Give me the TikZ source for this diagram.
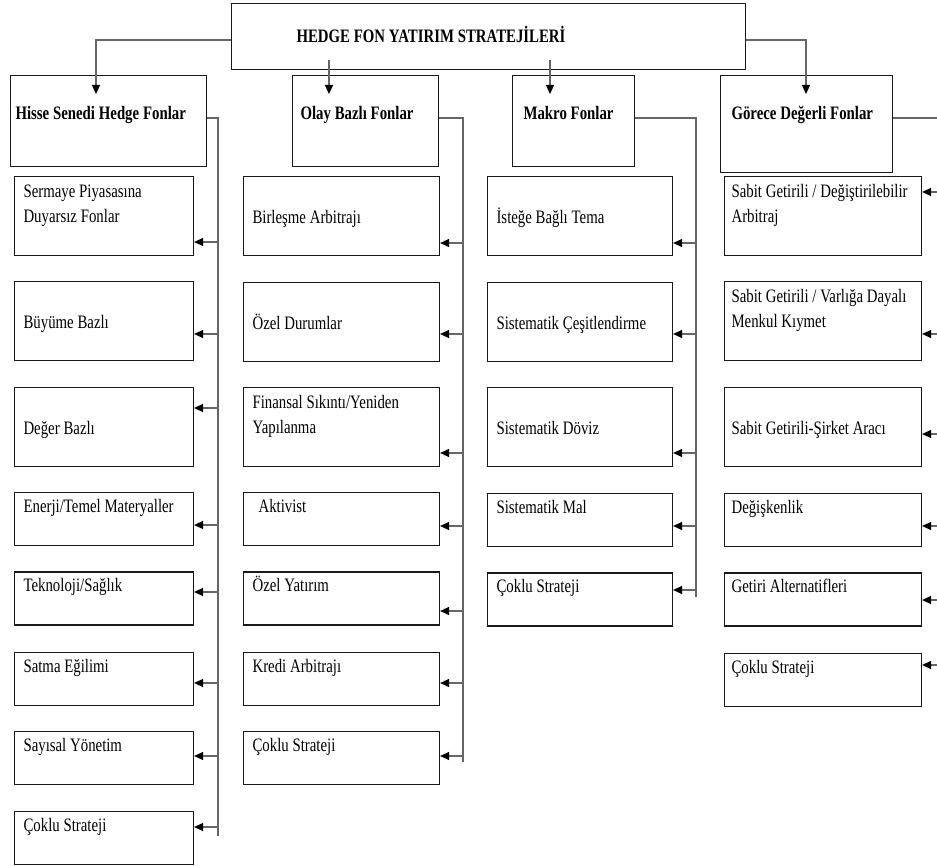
\documentclass[tikz,border=0pt]{standalone}
\usepackage{fontspec}
\setmainfont{Liberation Serif}[FakeStretch=0.78]
\usetikzlibrary{arrows.meta,positioning}
\newcommand{\boxfont}{\fontsize{19}{25}\selectfont}

\begin{document}
\begin{tikzpicture}[
x=1pt, y=-1pt,
every node/.style={font=\boxfont, execute at begin node={\spaceskip=3.8pt plus 2pt minus 1pt\relax}},
box/.style={draw=black!90, line width=1.1pt, align=left, inner ysep=0pt, anchor=north west},
headbox/.style={box, font=\boxfont\bfseries},
tallmid/.style={text height=47pt, text depth=32pt},
talltop/.style={text height=21pt, text depth=58pt},
short/.style={text height=20pt, text depth=33pt},
hcol/.style={box, inner xsep=9pt, text width=161pt},
ocol/.style={box, inner xsep=9pt, text width=178pt},
mcol/.style={box, inner xsep=9pt, text width=167pt},
gcol/.style={box, inner xsep=7pt, text width=183pt},
line/.style={draw=black!60, line width=1.3pt},
arr/.style={line, -{Triangle[length=9pt,width=8pt,color=black]}},
]
\useasboundingbox (0,0) rectangle (937,866);
%Nodes
\node[headbox, inner xsep=65pt, text width=384pt, text height=39pt, text depth=27pt] (top) at (231,3) {HEDGE FON YATIRIM STRATEJİLERİ};

\node[headbox, inner xsep=5pt, text width=186pt, text height=44pt, text depth=47pt] (hisse) at (10,75) {Hisse Senedi Hedge Fonlar};
\node[headbox, inner xsep=8pt, text width=130pt, text height=44pt, text depth=47pt] (olay) at (292,75) {Olay Bazlı Fonlar};
\node[headbox, inner xsep=11pt, text width=100pt, text height=44pt, text depth=47pt] (makro) at (512,75) {Makro Fonlar};
\node[headbox, inner xsep=11pt, text width=150pt, text height=44pt, text depth=53pt] (gorece) at (720,75) {Görece Değerli Fonlar};

\node[hcol, talltop] (h1) at (14,176) {Sermaye Piyasasına\\Duyarsız Fonlar};
\node[hcol, tallmid] (h2) [below=25pt of h1] {Büyüme Bazlı};
\node[hcol, tallmid] (h3) [below=26pt of h2] {Değer Bazlı};
\node[hcol, short]   (h4) [below=25pt of h3] {Enerji/Temel Materyaller};
\node[hcol, short]   (h5) [below=25pt of h4] {Teknoloji/Sağlık};
\node[hcol, short]   (h6) [below=26pt of h5] {Satma Eğilimi};
\node[hcol, short]   (h7) [below=25pt of h6] {Sayısal Yönetim};
\node[hcol, short]   (h8) [below=26pt of h7] {Çoklu Strateji};

\node[ocol, tallmid] (o1) at (243,176) {Birleşme Arbitrajı};
\node[ocol, tallmid] (o2) [below=26pt of o1] {Özel Durumlar};
\node[ocol, talltop] (o3) [below=25pt of o2] {Finansal Sıkıntı/Yeniden\\Yapılanma};
\node[ocol, short]   (o4) [below=25pt of o3] {\hspace{6pt}Aktivist};
\node[ocol, short]   (o5) [below=25pt of o4] {Özel Yatırım};
\node[ocol, short]   (o6) [below=26pt of o5] {Kredi Arbitrajı};
\node[ocol, short]   (o7) [below=25pt of o6] {Çoklu Strateji};

\node[mcol, tallmid] (m1) at (487,176) {İsteğe Bağlı Tema};
\node[mcol, tallmid] (m2) [below=26pt of m1] {Sistematik Çeşitlendirme};
\node[mcol, tallmid] (m3) [below=25pt of m2] {Sistematik Döviz};
\node[mcol, short]   (m4) [below=26pt of m3] {Sistematik Mal};
\node[mcol, short]   (m5) [below=25pt of m4] {Çoklu Strateji};

\node[gcol, talltop] (g1) at (724,176) {Sabit Getirili / Değiştirilebilir\\Arbitraj};
\node[gcol, talltop] (g2) [below=25pt of g1] {Sabit Getirili / Varlığa Dayalı\\Menkul Kıymet};
\node[gcol, tallmid] (g3) [below=26pt of g2] {Sabit Getirili-Şirket Aracı};
\node[gcol, short]   (g4) [below=26pt of g3] {Değişkenlik};
\node[gcol, short]   (g5) [below=25pt of g4] {Getiri Alternatifleri};
\node[gcol, short]   (g6) [below=26pt of g5] {Çoklu Strateji};

%Lines
\coordinate (hs) at (96,94);
\coordinate (ol) at (329,94);
\coordinate (mk) at (550,94);
\coordinate (gd) at (806,94);
\draw[arr] (top.west |- 0,40) -| (hs);
\draw[arr] (ol |- 0,60) -- (ol);
\draw[arr] (mk |- 0,60) -- (mk);
\draw[arr] (top.east |- 0,40) -| (gd);

\coordinate (hbus) at (218,118);
\coordinate (obus) at (463,118);
\coordinate (mbus) at (696,118);
\coordinate (gbus) at (937,118);
\draw[line] (hisse.east |- hbus) -- (hbus) -- (hbus |- 0,836);
\draw[line] (olay.east |- obus) -- (obus) -- (obus |- 0,762);
\draw[line] (makro.east |- mbus) -- (mbus) -- (mbus |- 0,597);
\draw[line] (gorece.east |- gbus) -- (gbus);

\foreach \n/\y in {h1/242,h2/334,h3/408,h4/525,h5/592,h6/683,h7/756,h8/827}
  \draw[arr] (hbus |- 0,\y) -- (\n.east |- 0,\y);
\foreach \n/\y in {o1/243,o2/334,o3/453,o4/526,o5/611,o6/683,o7/756}
  \draw[arr] (obus |- 0,\y) -- (\n.east |- 0,\y);
\foreach \n/\y in {m1/243,m2/334,m3/453,m4/526,m5/590}
  \draw[arr] (mbus |- 0,\y) -- (\n.east |- 0,\y);
\foreach \n/\y in {g1/192,g2/334,g3/434,g4/526,g5/600,g6/665}
  \draw[arr] (gbus |- 0,\y) -- (\n.east |- 0,\y);
\end{tikzpicture}
\end{document}
